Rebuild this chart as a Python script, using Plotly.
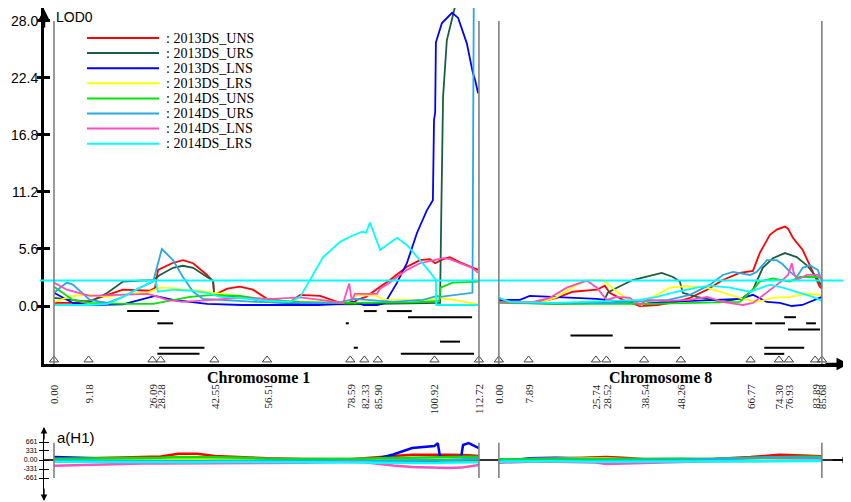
import plotly.graph_objects as go

# target picture size; the page body adds an 8 px margin, so the figure is drawn
# 8 px smaller and all pixel positions below are given in picture coordinates
W_REF, H_REF = 851, 502
BODY = 8
W, H = W_REF - BODY, H_REF - BODY

# ---------------- data ----------------
traits = ["2013DS_UNS", "2013DS_URS", "2013DS_LNS", "2013DS_LRS",
          "2014DS_UNS", "2014DS_URS", "2014DS_LNS", "2014DS_LRS"]
colors = ["#ff0000", "#1d5c40", "#0000ff", "#ffff00",
          "#00e600", "#29a9e1", "#ff4fbf", "#00ffff"]

threshold = 2.5

chr1_markers = [0.00, 9.18, 26.09, 28.28, 42.55, 56.51, 78.59, 82.33, 85.90, 100.92, 112.72]
chr8_markers = [0.00, 7.89, 25.74, 28.52, 38.54, 48.26, 66.77, 74.30, 76.93, 83.89, 85.68]

lod_ticks = [0.0, 5.6, 11.2, 16.8, 22.4, 28.0]
eff_ticks = [-661, -331, 0, 331, 661]
eff_ticktext = ["-661", "-331", "0.00", "331", "661"]

# LOD profiles, chromosome 1 (cM, LOD)
uns13_c1_cm = [0, 5, 9.5, 14.2, 18.3, 25.5, 26.8, 27.6, 31.3, 34.2, 36.9, 40.6, 42.2, 42.5, 46, 49.3, 52.8, 56.5,
               62.6, 65.3, 70.6, 75.9, 79.0, 80.4, 82.8, 86.5, 89.1, 93.6, 97.1, 99.7, 101.1, 103.2, 105.0, 107.7,
               110.9, 112.5]
uns13_c1_lod = [0.3, 0.3, 0.5, 1.1, 1.6, 1.5, 1.8, 3.55, 4.2, 4.5, 4.2, 3.05, 2.4, 1.1, 1.7, 1.9, 1.6, 0.7,
                0.4, 1.1, 1.0, 0.3, 0.2, 0.6, 0.9, 1.9, 2.55, 3.85, 4.5, 4.6, 4.2, 4.6, 4.8, 4.3, 3.85, 3.55]
urs13_c1_cm = [0, 5, 9.5, 14.2, 18.3, 22.8, 26.3, 28.1, 31.6, 34.2, 36.9, 40.6, 42.2, 42.5, 49.3, 56.5, 65, 78,
               85, 95, 102.4, 102.7, 102.9, 103.2, 104.2, 105.6, 106.9, 109.5, 112.5]
urs13_c1_lod = [0.8, 0.6, 0.4, 1.3, 2.4, 2.5, 2.55, 3.05, 3.75, 3.95, 3.75, 2.85, 2.5, 1.1, 0.9, 0.4, 0.2, 0.15,
                0.2, 0.25, 0.3, 8.4, 16.3, 20.5, 26.1, 28.4, 30.2, 34, 38]
lns13_c1_cm = [0, 5, 9.5, 18.3, 22.8, 26.8, 31.6, 40.6, 50, 60, 70, 76.7, 78.5, 80.4, 82.2, 85.7, 87.3, 87.8,
               91.0, 93.6, 96.3, 98.9, 100.5, 100.8, 101.1, 101.3, 102.9, 105.6, 107.2, 109.5, 111.1, 111.7, 112.5]
lns13_c1_lod = [1.3, 0.3, 0.1, 0.15, 0.6, 1.0, 0.6, 0.2, 0.1, 0.1, 0.1, 0.2, 0.5, 0.3, 0.1, 0.1, 0.2, 0.3,
                2.3, 4.2, 7.2, 9.4, 10.4, 18.3, 19.0, 25.9, 27.8, 28.8, 28.3, 25.8, 22.9, 22.2, 20.9]
lrs13_c1_cm = [0, 5, 9.5, 14.2, 19.4, 24.7, 26.8, 28.1, 31.6, 34.2, 38.7, 42.2, 49.3, 56.5, 65.3, 76.7, 79.0,
               80.4, 85.7, 87.3, 100.0, 101.6, 106, 112.5]
lrs13_c1_lod = [0.4, 1.0, 1.1, 0.9, 1.2, 1.3, 1.6, 1.8, 1.75, 1.6, 1.5, 1.3, 1.0, 0.5, 0.4, 0.3, 0.6,
                1.1, 1.0, 0.6, 0.6, 0.85, 0.6, 0.15]
uns14_c1_cm = [0, 2.4, 5, 9.5, 18.3, 26.3, 31.6, 36.1, 42.2, 49.3, 56.5, 65, 75, 85, 95, 102.2, 102.5, 105.8,
               110.9, 112.5]
uns14_c1_lod = [1.9, 1.3, 0.6, 0.3, 0.2, 0.2, 0.6, 0.9, 1.1, 1.0, 0.6, 0.4, 0.3, 0.3, 0.35, 0.5, 1.8, 2.3,
                2.4, 2.4]
urs14_c1_cm = [0, 3.4, 5, 9.5, 14.2, 18.3, 22.8, 26.3, 28.6, 31.6, 34.2, 36.9, 39.5, 44.8, 53.8, 65, 75, 79.8,
               83.8, 90, 97.9, 101.6, 102.4, 111.0, 111.4, 112.5]
urs14_c1_lod = [1.3, 2.3, 2.1, 0.6, 0.3, 0.9, 1.8, 2.4, 5.6, 4.5, 2.85, 1.4, 0.7, 0.6, 0.4, 0.3, 0.3, 0.7,
                0.6, 0.4, 0.6, 1.0, 0.9, 1.3, 35, 36]
lns14_c1_cm = [0, 3.4, 9.5, 18.3, 24.7, 26.8, 30.0, 34.2, 40.6, 49.3, 58, 65.3, 70.6, 76.7, 78.3, 79.0, 79.8,
               81.2, 85.7, 86.5, 89.1, 93.6, 97.1, 99.7, 103.2, 105.0, 107.7, 110.9, 112.5]
lns14_c1_lod = [2.3, 1.6, 1.0, 1.1, 1.2, 1.0, 0.6, 0.4, 0.6, 0.8, 0.7, 0.85, 0.6, 0.3, 2.2, 0.5, 1.2,
                1.2, 1.2, 1.7, 2.3, 3.55, 4.2, 4.4, 4.7, 4.6, 4.2, 3.75, 3.25]
lrs14_c1_cm = [0, 9.5, 14.2, 18.3, 22.8, 26.8, 27.6, 31.6, 36.1, 40.6, 44, 49, 56.5, 62.6, 65.3, 67.9, 71.4,
               75.9, 78.5, 81.7, 82.8, 83.8, 86.5, 88.3, 91.0, 93.6, 97.1, 99.7, 101.3, 101.4, 112.5]
lrs14_c1_lod = [0.1, 0.1, 0.2, 0.9, 1.8, 2.55, 1.4, 1.6, 1.5, 1.3, 0.9, 0.8, 0.5, 0.4, 0.9, 2.55, 4.8,
                6.3, 6.8, 7.3, 7.2, 8.2, 5.5, 6.0, 6.7, 6.0, 4.5, 3.35, 2.55, 0.1, 0.1]

# LOD profiles, chromosome 8
uns13_c8_cm = [0, 10.9, 15.4, 19.6, 26.0, 28.1, 29.4, 32.9, 37.4, 42, 47.2, 50.7, 55.2, 59.4, 63.9, 67.4, 69.2,
               71.9, 73.7, 75.9, 76.7, 78.0, 80.6, 83.3, 85.1, 85.7]
uns13_c8_lod = [0.3, 0.4, 0.8, 1.4, 1.6, 2.0, 1.3, 0.6, 0.0, 0.1, 0.4, 0.8, 1.6, 2.55, 3.25, 3.45, 5.2,
                7.0, 7.5, 7.8, 7.6, 6.7, 5.5, 3.25, 1.9, 1.7]
urs13_c8_cm = [0, 5.6, 15, 27.6, 28.9, 31.3, 35.5, 40.1, 43.2, 46.2, 48.0, 48.8, 52.5, 59.4, 64.7, 67.4, 70.0,
               72.7, 75.9, 79.0, 81.7, 84.4, 85.7]
urs13_c8_lod = [0.5, 0.3, 0.2, 0.3, 1.3, 1.8, 2.55, 2.95, 3.25, 2.85, 2.4, 1.3, 0.9, 0.4, 0.8, 1.6, 3.75,
                4.7, 5.2, 4.8, 4.0, 2.75, 1.9]
lns13_c8_cm = [0, 5.6, 8.2, 13.5, 26.0, 32.9, 37.4, 45, 55.2, 63.9, 67.4, 71.1, 74.5, 77.7, 80.5, 85.7]
lns13_c8_lod = [0.6, 0.6, 1.0, 0.9, 0.7, 0.4, 0.2, 0.4, 0.6, 0.7, 1.1, 0.4, 0.3, 0.0, 0.1, 0.9]
lrs13_c8_cm = [0, 10.9, 15.4, 20.7, 24.1, 27.6, 31.3, 34.7, 37.9, 41.9, 45.4, 49.9, 55.2, 59.4, 63.9, 68.4,
               72.7, 77.2, 81.7, 85.7]
lrs13_c8_lod = [0.3, 0.3, 0.9, 2.1, 2.55, 2.55, 1.4, 0.6, 0.1, 1.1, 1.8, 1.95, 1.8, 1.3, 0.8, 0.4,
                0.8, 0.9, 1.2, 1.1]
uns14_c8_cm = [0, 20, 40, 55, 63.9, 67.4, 69.2, 72.7, 77.2, 79.8, 84.4, 85.7]
uns14_c8_lod = [0.3, 0.2, 0.2, 0.3, 0.4, 1.6, 2.4, 2.7, 2.4, 2.85, 2.85, 2.7]
urs14_c8_cm = [0, 3, 10, 30, 35, 45, 50.7, 56.0, 59.4, 62.1, 66.6, 68.4, 71.1, 73.7, 75.3, 77.2, 79.0, 80.6,
               82.5, 84.6, 85.7]
urs14_c8_lod = [0.8, 0.4, 0.3, 0.3, 0.4, 0.6, 1.1, 2.1, 3.05, 3.35, 3.05, 3.35, 4.5, 4.5, 4.1, 3.35, 2.85, 3.75,
                4.0, 3.55, 2.4]
lns14_c8_cm = [0, 8, 13.5, 18.0, 23.3, 26.0, 28.6, 31.3, 34.7, 37.4, 39.3, 45, 50.7, 55.2, 59.4, 64.7, 67.4,
               71.1, 74.5, 76.7, 77.7, 78.2, 79.0, 81.7, 84.6, 85.7]
lns14_c8_lod = [0.4, 0.3, 0.8, 1.8, 2.5, 1.8, 0.6, 0.9, 0.8, 0.1, 0.6, 0.5, 0.6, 0.9, 0.4, 0.1, 0.3,
                1.3, 2.3, 3.05, 4.2, 3.3, 2.55, 3.05, 3.05, 2.6]
lrs14_c8_cm = [0, 3, 15, 28.6, 37.4, 41.9, 47.2, 52.5, 56.0, 61.3, 66.6, 71.9, 75.3, 79.8, 83.3, 85.7]
lrs14_c8_lod = [0.8, 0.4, 0.3, 0.5, 0.6, 0.9, 1.4, 1.8, 2.0, 1.8, 1.4, 2.1, 1.8, 1.3, 0.9, 0.5]

# QTL support intervals (start, end, row below the curves)
ci1_start = [19.4, 27.4, 27.9, 27.4, 77.4, 79.5, 82.2, 88.3, 93.9, 102.4, 92.0]
ci1_end = [27.9, 31.6, 39.9, 38.6, 78.2, 80.6, 85.6, 94.9, 110.9, 107.7, 111.4]
ci1_row = [0, 2, 6, 7, 2, 6, 0, 0, 1, 5, 7]
ci8_start = [75.7, 56.1, 68.0, 81.5, 76.7, 19.0, 33.3, 70.4, 70.4]
ci8_end = [78.8, 67.2, 75.9, 84.1, 85.2, 30.2, 48.1, 81.0, 75.7]
ci8_row = [1, 2, 2, 2, 3, 4, 6, 6, 7]

# additive effects a(H1)
eff1_cm = [0, 9.2, 18, 26.1, 28.3, 33, 38, 42.6, 50, 56.5, 66, 78.6, 82.3, 85.9, 90, 95, 100.9, 101.8,
           102.4, 105, 108, 108.5, 110, 112.7]
eff1_uns13 = [60, 60, 90, 100, 130, 230, 230, 150, 110, 60, 40, 30, 60, 110, 150, 190, 200, 200,
              200, 190, 180, 180, 170, 150]
eff1_urs13 = [-20, -20, -30, -30, -30, -20, -20, -10, 0, 0, -10, -20, -20, -30, -30, -30, -30, -30,
              -30, -20, -20, -20, -20, -20]
eff1_lns13 = [110, 80, 40, -60, -90, -70, -50, -40, -50, -70, -60, -30, 20, 60, 200, 440, 510, 620,
              110, 110, 110, 550, 620, 440]
eff1_lrs13 = [20, 20, 30, 30, 40, 50, 50, 40, 30, 20, 20, 30, 40, 30, 30, 30, 30, 30,
              30, 40, 40, 40, 40, 40]
eff1_uns14 = [50, 60, 70, 60, 80, 110, 110, 100, 80, 50, 40, 30, 50, 60, 70, 90, 110, 110,
              110, 110, 120, 120, 120, 110]
eff1_urs14 = [-20, -30, -40, -50, -40, -40, -40, -30, -30, -30, -40, -50, -40, -30, -20, -20, -20, -20,
              -20, 0, 20, 30, 40, 40]
eff1_lns14 = [-210, -170, -140, -120, -130, -130, -120, -110, -110, -110, -100, -60, -80, -140, -200, -260, -290, -290,
              -290, -290, -280, -270, -240, -180]
eff1_lrs14 = [-60, -70, -70, -80, -90, -90, -80, -70, -70, -70, -80, -90, -90, -100, -110, -110, -110, -110,
              -100, -90, -80, -80, -80, -80]

eff8_cm = [0, 7.9, 15, 25.7, 28.5, 33, 38.5, 48.3, 57, 66.8, 71, 74.3, 76.9, 80, 83.9, 85.7]
eff8_uns13 = [-20, 20, 50, 90, 110, 80, 30, 20, 40, 110, 170, 190, 180, 170, 170, 140]
eff8_urs13 = [0, 10, 10, 0, -20, 30, 40, 40, 20, 40, 80, 90, 90, 70, 60, 50]
eff8_lns13 = [-80, 60, 80, 70, 50, -10, -40, -30, -20, 0, 40, 60, 40, 30, 20, 0]
eff8_lrs13 = [20, 30, 40, 60, 60, 30, 20, 30, 30, 30, 20, 20, 20, 30, 30, 30]
eff8_uns14 = [30, 40, 40, 40, 50, 50, 40, 40, 50, 80, 100, 110, 110, 120, 120, 110]
eff8_urs14 = [-30, -20, -20, -30, -30, -20, -10, 0, 20, 60, 90, 90, 80, 90, 100, 80]
eff8_lns14 = [-100, -60, -60, -90, -150, -130, -90, -70, -50, -40, -20, -20, -10, -30, -30, -20]
eff8_lrs14 = [-60, -50, -50, -60, -60, -50, -50, -40, -40, -50, -60, -60, -50, -50, -40, -40]

lod_c1 = [(uns13_c1_cm, uns13_c1_lod), (urs13_c1_cm, urs13_c1_lod), (lns13_c1_cm, lns13_c1_lod),
          (lrs13_c1_cm, lrs13_c1_lod), (uns14_c1_cm, uns14_c1_lod), (urs14_c1_cm, urs14_c1_lod),
          (lns14_c1_cm, lns14_c1_lod), (lrs14_c1_cm, lrs14_c1_lod)]
lod_c8 = [(uns13_c8_cm, uns13_c8_lod), (urs13_c8_cm, urs13_c8_lod), (lns13_c8_cm, lns13_c8_lod),
          (lrs13_c8_cm, lrs13_c8_lod), (uns14_c8_cm, uns14_c8_lod), (urs14_c8_cm, urs14_c8_lod),
          (lns14_c8_cm, lns14_c8_lod), (lrs14_c8_cm, lrs14_c8_lod)]
eff_c1 = [eff1_uns13, eff1_urs13, eff1_lns13, eff1_lrs13, eff1_uns14, eff1_urs14, eff1_lns14, eff1_lrs14]
eff_c8 = [eff8_uns13, eff8_urs13, eff8_lns13, eff8_lrs13, eff8_uns14, eff8_urs14, eff8_lns14, eff8_lrs14]

# ---------------- layout geometry (picture pixels) ----------------
PX_CM = 3.77          # screen pixels per cM
X0 = 54               # pixel column of chr1 0 cM
chr8_offset = 118.0   # where chr8 starts on the shared axis
LOD0_PY, LOD_PX = 306, 10.18    # pixel row of LOD 0, pixels per LOD unit
EFF0_PY, EFF_PX = 460, 18 / 661  # pixel row of a=0, pixels per effect unit

def px(x):
    return (x - BODY) / W

def py(y):
    return 1 - (y - BODY) / H

x_range = [(44 - X0) / PX_CM, (845 - X0) / PX_CM]
lod_range = [(LOD0_PY - 364) / LOD_PX, (LOD0_PY - BODY) / LOD_PX]
eff_range = [(EFF0_PY - 500) / EFF_PX, (EFF0_PY - 428) / EFF_PX]

serif = "Liberation Serif"
sans = "Liberation Sans"

fig = go.Figure()

# LOD curves
for (c1, c8), col, name in zip(zip(lod_c1, lod_c8), colors, traits):
    xs = list(c1[0]) + [None] + [c + chr8_offset for c in c8[0]]
    ys = list(c1[1]) + [None] + list(c8[1])
    fig.add_trace(go.Scatter(x=xs, y=ys, mode="lines", line=dict(color=col, width=1.8),
                             name=name, showlegend=False, hoverinfo="skip"))

# support intervals
ci_x, ci_y = [], []
for s, e, r in zip(ci1_start, ci1_end, ci1_row):
    ci_x += [s, e, None]
    ci_y += [-0.5 - 0.6 * r] * 2 + [None]
for s, e, r in zip(ci8_start, ci8_end, ci8_row):
    ci_x += [s + chr8_offset, e + chr8_offset, None]
    ci_y += [-0.5 - 0.6 * r] * 2 + [None]
fig.add_trace(go.Scatter(x=ci_x, y=ci_y, mode="lines", line=dict(color="black", width=2),
                         showlegend=False, hoverinfo="skip"))

# marker triangles on the chromosome axis
mk_x = chr1_markers + [m + chr8_offset for m in chr8_markers]
fig.add_trace(go.Scatter(x=mk_x, y=[lod_range[0] + 0.4] * len(mk_x), mode="markers",
                         marker=dict(symbol="triangle-up-open", size=8, color="#444", line=dict(width=1)),
                         showlegend=False, hoverinfo="skip", cliponaxis=False))

# effect curves (lower panel)
for e1, e8, col in zip(eff_c1, eff_c8, colors):
    xs = list(eff1_cm) + [None] + [c + chr8_offset for c in eff8_cm]
    ys = list(e1) + [None] + list(e8)
    fig.add_trace(go.Scatter(x=xs, y=ys, mode="lines", line=dict(color=col, width=2.5),
                             xaxis="x2", yaxis="y2", showlegend=False, hoverinfo="skip"))

# empty traces so the tick-only overlay axes get drawn
fig.add_trace(go.Scatter(x=[None], y=[None], yaxis="y3", showlegend=False, hoverinfo="skip"))
fig.add_trace(go.Scatter(x=[None], y=[None], xaxis="x2", yaxis="y4", showlegend=False, hoverinfo="skip"))

shapes = []
# threshold
shapes.append(dict(type="line", xref="paper", yref="y", x0=px(40), x1=px(845), y0=threshold, y1=threshold,
                   line=dict(color="#00ffff", width=2), layer="above"))
# chromosome borders
borders = [chr1_markers[0], chr1_markers[-1], chr8_markers[0] + chr8_offset, chr8_markers[-1] + chr8_offset]
for b in borders:
    shapes.append(dict(type="line", xref="x", yref="y", x0=b, x1=b, y0=lod_range[0], y1=lod_ticks[-1],
                       line=dict(color="#808080", width=1.6)))
    shapes.append(dict(type="line", xref="x2", yref="y2", x0=b, x1=b, y0=-661, y1=630,
                       line=dict(color="#808080", width=1.6)))

annotations = []
# legend drawn by hand (long line samples)
for i, (name, col) in enumerate(zip(traits, colors)):
    yy = 38 + 15.1 * i
    shapes.append(dict(type="line", xref="paper", yref="paper", x0=px(87), x1=px(159), y0=py(yy), y1=py(yy),
                       line=dict(color=col, width=2)))
    annotations.append(dict(text=": " + name, xref="paper", yref="paper", x=px(164), y=py(yy),
                            xanchor="left", yanchor="middle", showarrow=False,
                            font=dict(family=serif, size=14, color="black")))

# marker position labels
for m in chr1_markers:
    annotations.append(dict(text="%.2f" % m, xref="x", yref="paper", x=m, y=py(382), textangle=-90,
                            xanchor="center", yanchor="top", showarrow=False,
                            font=dict(family=serif, size=11, color="#222")))
for m in chr8_markers:
    annotations.append(dict(text="%.2f" % m, xref="x", yref="paper", x=m + chr8_offset, y=py(382), textangle=-90,
                            xanchor="center", yanchor="top", showarrow=False,
                            font=dict(family=serif, size=11, color="#222")))

# chromosome names
annotations.append(dict(text="<b>Chromosome 1</b>", xref="paper", yref="paper", x=px(258), y=py(377),
                        xanchor="center", yanchor="middle",
                        showarrow=False, font=dict(family=serif, size=16, color="black")))
annotations.append(dict(text="<b>Chromosome 8</b>", xref="x", yref="paper",
                        x=chr8_offset + chr8_markers[-1] / 2, y=py(377), xanchor="center", yanchor="middle",
                        showarrow=False, font=dict(family=serif, size=16, color="black")))

# axis titles
annotations.append(dict(text="LOD0", xref="paper", yref="paper", x=px(54), y=py(17), xanchor="left",
                        yanchor="middle", showarrow=False, font=dict(family=sans, size=14, color="black")))
annotations.append(dict(text="a(H1)", xref="paper", yref="paper", x=px(55), y=py(437), xanchor="left",
                        yanchor="middle", showarrow=False, font=dict(family=sans, size=15, color="black")))

# axis arrows
def arrow(x, y, ax, ay, w):
    return dict(text="", xref="paper", yref="paper", x=px(x), y=py(y), ax=ax, ay=ay,
                axref="pixel", ayref="pixel", showarrow=True, arrowhead=2, arrowsize=1,
                arrowwidth=w, arrowcolor="black")

annotations += [arrow(44, 9, 0, 20, 2.5), arrow(849, 364, -25, 0, 2.5),
                arrow(44, 427, 0, 14, 1.3), arrow(44, 501, 0, -14, 1.3), arrow(849, 460, -18, 0, 1.3)]

fig.update_layout(
    width=W, height=H,
    margin=dict(l=0, r=0, t=0, b=0, pad=0, autoexpand=False),
    paper_bgcolor="white", plot_bgcolor="rgba(0,0,0,0)",
    showlegend=False,
    shapes=shapes, annotations=annotations,
    xaxis=dict(domain=[px(44), px(845)], range=x_range, anchor="y", showline=True, linewidth=3,
               linecolor="black", ticks="", showticklabels=False, showgrid=False, zeroline=False,
               automargin=False),
    yaxis=dict(domain=[py(364), 1], range=lod_range, anchor="x", showline=True, linewidth=3,
               linecolor="black", tickvals=lod_ticks, ticktext=["%.1f" % t for t in lod_ticks],
               ticks="inside", ticklen=6, tickwidth=2.5, tickcolor="black",
               tickfont=dict(family=sans, size=14, color="black"), showgrid=False, zeroline=False,
               automargin=False),
    yaxis3=dict(overlaying="y", anchor="x", range=lod_range, tickvals=lod_ticks, ticks="outside",
                ticklen=6, tickwidth=2.5, tickcolor="black", showticklabels=False, showline=False,
                showgrid=False, zeroline=False, automargin=False),
    xaxis2=dict(domain=[px(44), px(845)], range=x_range, anchor="y2", visible=False, automargin=False),
    yaxis2=dict(domain=[py(500), py(428)], range=eff_range, anchor="x2", showline=True, linewidth=1.3,
                linecolor="black", tickvals=eff_ticks, ticktext=eff_ticktext,
                ticks="outside", ticklen=4, tickwidth=1.2, tickcolor="black",
                tickfont=dict(family=sans, size=7, color="black"), showgrid=False,
                zeroline=True, zerolinecolor="#333", zerolinewidth=1.5, automargin=False),
    yaxis4=dict(overlaying="y2", anchor="x2", range=eff_range, tickvals=eff_ticks, ticks="inside",
                ticklen=5, tickwidth=1.2, tickcolor="black", showticklabels=False, showline=False,
                showgrid=False, zeroline=False, automargin=False),
)

fig.write_html("out.html")
